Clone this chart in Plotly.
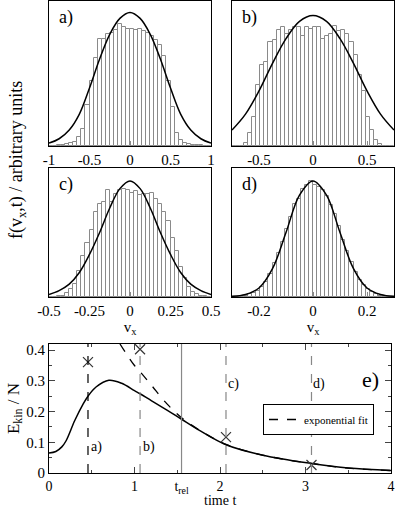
import plotly.graph_objects as go

# histogram heights (fraction of panel height), 40 bins each
hist_a = [0, 0, 0.005, 0.01, 0.015, 0.02, 0.03, 0.06, 0.12, 0.28,
          0.45, 0.61, 0.74, 0.74, 0.77, 0.78, 0.80, 0.84, 0.82, 0.81,
          0.81, 0.80, 0.81, 0.79, 0.78, 0.76, 0.73, 0.70, 0.62, 0.45,
          0.27, 0.09, 0.04, 0.02, 0.015, 0.01, 0.01, 0.005, 0, 0]
hist_b = [0, 0, 0, 0.02, 0.09, 0.20, 0.42, 0.56, 0.58, 0.72,
          0.73, 0.80, 0.82, 0.77, 0.80, 0.82, 0.82, 0.76, 0.82, 0.81,
          0.82, 0.82, 0.74, 0.76, 0.77, 0.83, 0.79, 0.80, 0.77, 0.72,
          0.63, 0.49, 0.38, 0.20, 0.11, 0.04, 0.015, 0, 0, 0]
hist_c = [0, 0, 0.005, 0.01, 0.03, 0.06, 0.10, 0.20, 0.32, 0.42,
          0.52, 0.66, 0.72, 0.74, 0.83, 0.74, 0.80, 0.83, 0.84, 0.83,
          0.81, 0.82, 0.79, 0.80, 0.80, 0.81, 0.76, 0.72, 0.66, 0.59,
          0.46, 0.36, 0.23, 0.15, 0.08, 0.04, 0.02, 0.01, 0.005, 0]
hist_d = [0, 0, 0.005, 0.01, 0.02, 0.03, 0.05, 0.08, 0.12, 0.18,
          0.26, 0.34, 0.43, 0.53, 0.62, 0.72, 0.76, 0.84, 0.87, 0.90,
          0.87, 0.85, 0.83, 0.78, 0.71, 0.64, 0.55, 0.44, 0.36, 0.27,
          0.19, 0.13, 0.09, 0.06, 0.04, 0.02, 0.01, 0.005, 0, 0]
half_range = [1.0, 0.75, 0.5, 0.3]

# maxwell curves (v, height)
gauss_a_v = [-1, -0.875, -0.75, -0.625, -0.5, -0.375, -0.25, -0.125, 0, 0.125, 0.25, 0.375, 0.5, 0.625, 0.75, 0.875, 1]
gauss_a_h = [0.02, 0.05, 0.11, 0.22, 0.40, 0.60, 0.77, 0.88, 0.92, 0.88, 0.77, 0.60, 0.40, 0.22, 0.11, 0.05, 0.02]
gauss_b_v = [-0.75, -0.625, -0.5, -0.375, -0.25, -0.125, 0, 0.125, 0.25, 0.375, 0.5, 0.625, 0.75]
gauss_b_h = [0.11, 0.22, 0.38, 0.57, 0.74, 0.86, 0.90, 0.86, 0.74, 0.57, 0.38, 0.22, 0.11]
gauss_c_v = [-0.5, -0.4375, -0.375, -0.3125, -0.25, -0.1875, -0.125, -0.0625, 0, 0.0625, 0.125, 0.1875, 0.25, 0.3125, 0.375, 0.4375, 0.5]
gauss_c_h = [0.02, 0.05, 0.10, 0.19, 0.33, 0.50, 0.69, 0.84, 0.90, 0.84, 0.69, 0.50, 0.33, 0.19, 0.10, 0.05, 0.02]
gauss_d_v = [-0.3, -0.25, -0.2, -0.15, -0.1, -0.05, 0, 0.05, 0.1, 0.15, 0.2, 0.25, 0.3]
gauss_d_h = [0.005, 0.02, 0.07, 0.22, 0.50, 0.79, 0.90, 0.79, 0.50, 0.22, 0.07, 0.02, 0.005]

tick_a = [-1, -0.5, 0, 0.5, 1]
tick_b = [-0.5, 0, 0.5]
tick_c = [-0.5, -0.25, 0, 0.25, 0.5]
tick_d = [-0.2, 0, 0.2]

# kinetic energy panel
t_ekin = [0, 0.08, 0.15, 0.2, 0.3, 0.4, 0.456, 0.55, 0.7, 0.85, 1.0, 1.065, 1.2, 1.38, 1.55, 1.77, 2.07, 2.5, 3.07, 3.5, 4.0]
ekin = [0.065, 0.07, 0.085, 0.105, 0.17, 0.225, 0.25, 0.28, 0.302, 0.292, 0.268, 0.258, 0.235, 0.205, 0.175, 0.137, 0.092, 0.058, 0.031, 0.016, 0.008]
t_fit = [0.83, 0.9, 1.0, 1.065, 1.2, 1.38, 1.55, 1.77, 2.07, 2.5, 3.07, 3.5, 4.0]
ekin_fit = [0.42, 0.39, 0.35, 0.33, 0.285, 0.225, 0.18, 0.138, 0.093, 0.058, 0.031, 0.016, 0.008]
t_snap = [0.456, 1.065, 2.07, 3.07]
ekin_snap = [0.361, 0.403, 0.117, 0.026]
snap_labels = ["a)", "b)", "c)", "d)"]
t_rel = 1.55

W, H = 399, 507
SERIF = "Liberation Serif"


def px(x0, x1):
    return [x0 / W, x1 / W]


def py(top, bottom):
    return [1 - bottom / H, 1 - top / H]


def tfont(size=14):
    return dict(family=SERIF, size=size, color="black")


fig = go.Figure()

panels = [
    (hist_a, gauss_a_v, gauss_a_h, tick_a, px(49, 211), py(1, 146), "a)"),
    (hist_b, gauss_b_v, gauss_b_h, tick_b, px(232, 394), py(1, 146), "b)"),
    (hist_c, gauss_c_v, gauss_c_h, tick_c, px(49, 211), py(168, 297), "c)"),
    (hist_d, gauss_d_v, gauss_d_h, tick_d, px(232, 394), py(168, 297), "d)"),
]

for i, (hist, gv, gh, ticks, xdom, ydom, lab) in enumerate(panels):
    n = i + 1
    xa = "x" if n == 1 else "x%d" % n
    ya = "y" if n == 1 else "y%d" % n
    r = half_range[i]
    w = 2 * r / len(hist)
    centers = [-r + w * (k + 0.5) for k in range(len(hist))]
    fig.add_trace(go.Bar(x=centers, y=hist, width=w, xaxis=xa, yaxis=ya,
                         marker=dict(color="white", line=dict(color="#8a8a8a", width=1)),
                         showlegend=False))
    fig.add_trace(go.Scatter(x=gv, y=gh, mode="lines", xaxis=xa, yaxis=ya,
                             line=dict(color="black", width=1.5, shape="spline"),
                             showlegend=False))
    key = "" if n == 1 else str(n)
    ttext = [("%g" % t) for t in ticks]
    fig.layout["xaxis" + key] = dict(
        domain=xdom, anchor=ya, range=[-r, r], tickvals=ticks, ticktext=ttext,
        ticks="inside", ticklen=5, tickcolor="#888", showline=True, mirror=True,
        linecolor="black", linewidth=1, showgrid=False, zeroline=False,
        automargin=False, tickfont=tfont(15))
    fig.layout["yaxis" + key] = dict(
        domain=ydom, anchor=xa, range=[0, 1], showticklabels=False, ticks="",
        showline=True, mirror=True, linecolor="black", linewidth=1,
        showgrid=False, zeroline=False, automargin=False)
    fig.add_annotation(text=lab, xref=xa + " domain", yref=ya + " domain",
                       x=0.05, y=0.97, xanchor="left", yanchor="top", showarrow=False,
                       font=tfont(18))
    if i >= 2:
        fig.layout["xaxis" + key].title = dict(text="v<sub>x</sub>", standoff=0, font=tfont(15))

# panel e
fig.add_trace(go.Scatter(x=t_ekin, y=ekin, mode="lines", xaxis="x5", yaxis="y5",
                         line=dict(color="black", width=1.5, shape="spline"),
                         showlegend=False))
fig.add_trace(go.Scatter(x=t_fit, y=ekin_fit, mode="lines", xaxis="x5", yaxis="y5",
                         line=dict(color="black", width=1.3, dash="dash", shape="spline"),
                         name="exponential fit", showlegend=True))
fig.add_trace(go.Scatter(x=t_snap, y=ekin_snap, mode="markers", xaxis="x5", yaxis="y5",
                         marker=dict(symbol="x-thin-open", size=10, color="#333",
                                     line=dict(color="#333", width=1.2)),
                         showlegend=False))

line_cols = ["black", "#888", "#888", "#888"]
for t, c in zip(t_snap, line_cols):
    fig.add_shape(type="line", xref="x5", yref="y5 domain", x0=t, x1=t, y0=0, y1=1,
                  line=dict(color=c, width=1.2, dash="dash"))
fig.add_shape(type="line", xref="x5", yref="y5 domain", x0=t_rel, x1=t_rel, y0=0, y1=1,
              line=dict(color="#888", width=1.2))

label_pos = [(0.56, 0.085), (1.17, 0.085), (2.16, 0.29), (3.16, 0.29)]
for lab, (lx, ly) in zip(snap_labels, label_pos):
    fig.add_annotation(text=lab, xref="x5", yref="y5", x=lx, y=ly, showarrow=False,
                       font=tfont(14))
fig.add_annotation(text="e)", xref="x5 domain", yref="y5 domain", x=0.94, y=0.84,
                   xanchor="center", showarrow=False, font=tfont(22))

fig.layout.xaxis5 = dict(
    domain=px(49, 391), anchor="y5", range=[0, 4],
    tickvals=[0, 1, t_rel, 2, 3, 4], ticktext=["0", "1", "t<sub>rel</sub>", "2", "3", "4"],
    ticks="inside", ticklen=6, showline=True, mirror="allticks", linecolor="black",
    minor=dict(dtick=0.5, ticks="inside", ticklen=3),
    showgrid=False, zeroline=False, automargin=False, tickfont=tfont(14))
fig.layout.yaxis5 = dict(
    domain=py(344, 473), anchor="x5", range=[0, 0.42],
    tickvals=[0, 0.1, 0.2, 0.3, 0.4], ticktext=["0", "0.1", "0.2", "0.3", "0.4"],
    ticks="inside", ticklen=6, showline=True, mirror="allticks", linecolor="black",
    minor=dict(dtick=0.05, ticks="inside", ticklen=3),
    showgrid=False, zeroline=False, automargin=False, tickfont=tfont(15),
    title=dict(text="E<sub>kin</sub> / N", standoff=2, font=tfont(17)))

# x title of panel e sits just under the tick labels
fig.add_annotation(text="time t", xref="x5 domain", yref="paper", x=0.5, y=1 - 500 / H,
                   xanchor="center", yanchor="middle", showarrow=False, font=tfont(14))

fig.add_annotation(text="f(v<sub>x</sub>,t) / arbitrary units", xref="paper", yref="paper",
                   x=17 / W, y=1 - 160 / H, xanchor="center", yanchor="middle",
                   textangle=-90, showarrow=False, font=tfont(18))

fig.update_layout(
    width=W, height=H, margin=dict(l=0, r=0, t=0, b=0, autoexpand=False),
    plot_bgcolor="white", paper_bgcolor="white", bargap=0,
    legend=dict(x=263 / W, y=1 - 404 / H, xanchor="left", yanchor="top",
                bgcolor="white", bordercolor="black", borderwidth=1,
                font=tfont(11), itemwidth=30, tracegroupgap=0),
)

# drop the default page margin so the figure sits at the window corner
fig.write_html("out.html", config={"displayModeBar": False},
               post_script="document.body.style.margin='0';")
